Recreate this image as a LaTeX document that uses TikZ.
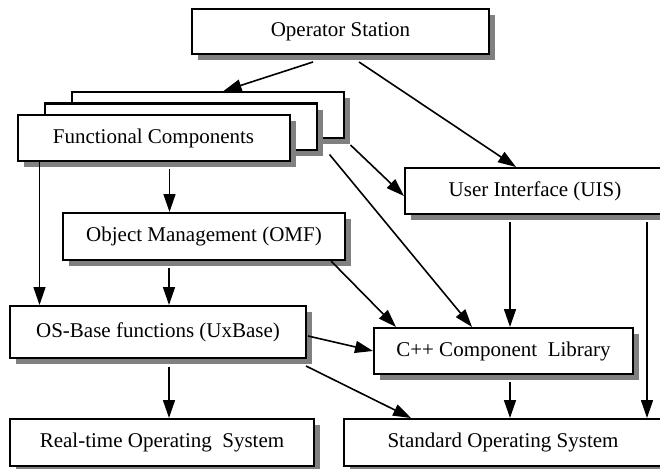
\documentclass[tikz,border=0pt]{standalone}
\usepackage{fontspec}
\setmainfont{Liberation Serif}
\usetikzlibrary{arrows.meta,calc,shadows}
\begin{document}
\begin{tikzpicture}[x=1pt,y=-1pt,
  box/.style={draw, line width=2pt, fill=white, inner sep=0pt,
    font=\fontsize{21}{25}\selectfont,
    drop shadow={shadow xshift=6pt, shadow yshift=-6pt, fill=black!50, opacity=1, draw=none}},
  arr/.style={line width=1.6pt, -{Triangle[length=18pt,width=12pt]}}]
\useasboundingbox (0,0) rectangle (660,468);
% boxes
\node[box, minimum width=297pt, minimum height=45pt] (ops) at (340.5,31.5) {Operator Station};
\node[box, minimum width=272pt, minimum height=46pt] (fcb) at (207.5,115) {};
\node[box, minimum width=272pt, minimum height=46pt] (fcm) at (180.5,126.5) {};
\node[box, minimum width=272pt, minimum height=46pt] (fcf) at (153.5,138) {Functional Components};
\node[box, minimum width=260pt, minimum height=46pt] (uis) at (535,191) {User Interface (UIS)};
\node[box, minimum width=282pt, minimum height=47pt] (omf) at (204,236.5) {Object Management (OMF)};
\node[box, minimum width=296pt, minimum height=52pt] (osb) at (158,332) {OS-Base functions (UxBase)};
\node[box, minimum width=259pt, minimum height=46pt] (cpp) at (503.5,351) {C++ Component\ \ Library};
\node[box, minimum width=304pt, minimum height=47pt] (rt) at (162,442.5) {Real-time Operating\ \ System};
\node[box, minimum width=318pt, minimum height=47pt] (sos) at (503,442.5) {Standard Operating System};
% connectors
\draw[arr] ($(ops.south west)+(122,7)$) -- ($(fcb.north west)+(153,0)$);
\draw[arr] ($(ops.south west)+(168,7)$) -- ($(uis.north west)+(112,0)$);
\draw[arr] ($(fcb.south east)+(6,6)$) -- ($(uis.north west)+(0,29)$);
\draw[arr] ($(fcm.south east)+(12,4)$) -- ($(cpp.north west)+(99,0)$);
\draw[arr] ($(fcf.south west)+(23,0)$) coordinate (a1) -- (a1 |- osb.north);
\draw[arr] ($(fcf.south west)+(153,7)$) coordinate (a2) -- (a2 |- omf.north);
\draw[arr] ($(omf.south west)+(107,7)$) coordinate (a3) -- (a3 |- osb.north);
\draw[arr] ($(omf.south east)+(-15,0)$) -- ($(cpp.north west)+(23,0)$);
\draw[arr] ($(osb.east)+(1,4)$) -- (cpp.west);
\draw[arr] ($(osb.south east)+(-1,7)$) -- ($(sos.north west)+(68,0)$);
\draw[arr] ($(osb.south west)+(160,8)$) coordinate (a4) -- (a4 |- rt.north);
\draw[arr] ($(uis.south west)+(106,7)$) coordinate (a5) -- (a5 |- cpp.north);
\draw[arr] ($(cpp.south west)+(137,7)$) coordinate (a6) -- (a6 |- sos.north);
\draw[arr] ($(uis.south west)+(243,7)$) coordinate (a7) -- (a7 |- sos.north);
\end{tikzpicture}
\end{document}
